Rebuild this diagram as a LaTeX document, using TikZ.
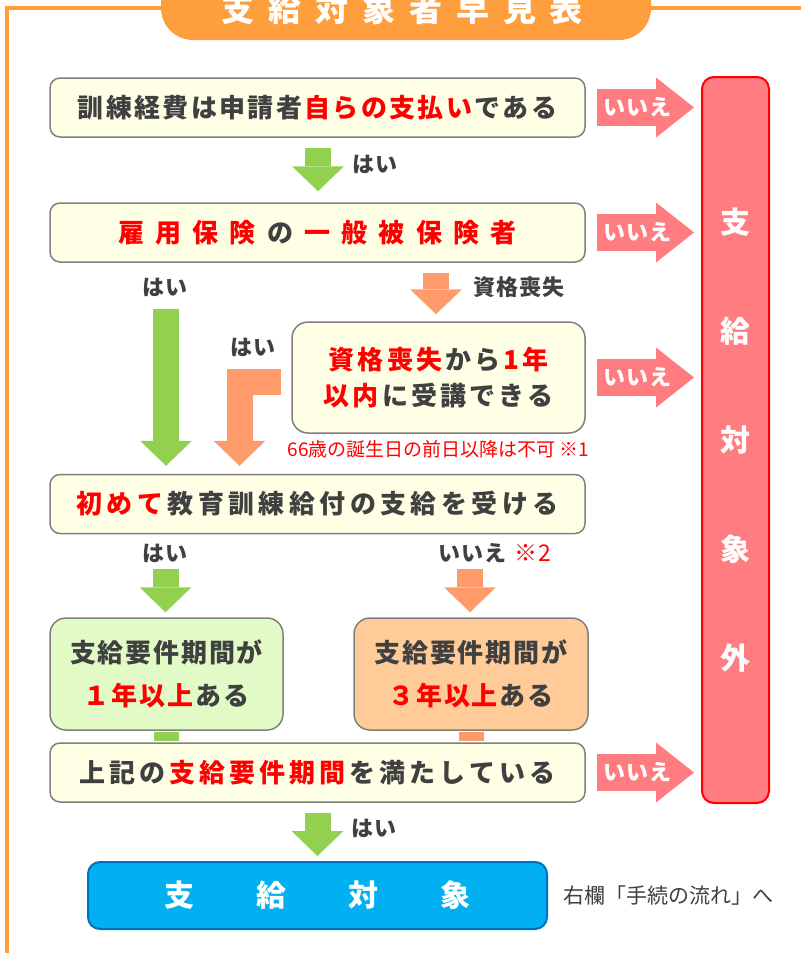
\documentclass[tikz,border=0pt]{standalone}
\usepackage{fontspec}
\setmainfont{Noto Sans CJK JP}
\usetikzlibrary{arrows.meta, positioning, calc}

\definecolor{frameorange}{RGB}{255,158,61}
\definecolor{cream}{RGB}{255,255,230}
\definecolor{boxgray}{RGB}{128,128,128}
\definecolor{textgray}{RGB}{64,64,64}
\definecolor{yesgreen}{RGB}{146,208,80}
\definecolor{lossorange}{RGB}{255,155,106}
\definecolor{lightgreen}{RGB}{226,251,198}
\definecolor{lightorange}{RGB}{255,204,153}
\definecolor{ngpink}{RGB}{255,124,128}
\definecolor{okblue}{RGB}{0,176,240}
\definecolor{okborder}{RGB}{0,112,192}

\newcommand{\redtext}[1]{\textcolor{red}{#1}}
\newcommand{\boxfont}[1]{\bfseries\fontsize{26}{36}\selectfont\addfontfeatures{LetterSpace=#1}}

\tikzset{
  qbox/.style={draw=boxgray, line width=1.5pt, fill=cream, rounded corners=10pt,
    minimum width=535pt, minimum height=59pt, inner sep=0pt, text=textgray},
  tallbox/.style={qbox, rounded corners=16pt, minimum width=233pt, minimum height=112pt,
    align=center, font=\bfseries\fontsize{26}{43}\selectfont\addfontfeatures{LetterSpace=7}},
  lab/.style={text=textgray, inner sep=0pt, font=\bfseries\fontsize{22}{24}\selectfont\addfontfeatures{LetterSpace=5}},
  yesarr/.style={yesgreen, line width=26pt, line join=miter,
    -{Triangle[length=25pt 0 0, width=52pt 0 0, line width=0pt 0 0]}},
  lossarr/.style={yesarr, lossorange},
  noarr/.style={ngpink, line width=37pt,
    -{Triangle[length=38pt 0 0, width=60pt 0 0, line width=0pt 0 0]}},
  notext/.style={text=white, inner sep=0pt,
    font=\bfseries\fontsize{22}{24}\selectfont\addfontfeatures{LetterSpace=4}},
}

\begin{document}
\begin{tikzpicture}[x=1pt, y=-1pt]
  \useasboundingbox (0,0) rectangle (801,953);

  % frame and title tab
  \draw[frameorange, line width=4pt, line join=miter] (7,953) -- (7,8) -- (801,8);
  \fill[frameorange, rounded corners=32pt] (161,-40) rectangle (651,40);
  \node[text=white, inner sep=0pt, font=\bfseries\fontsize{33}{36}\selectfont\addfontfeatures{LetterSpace=42}] (title) at (402.5,9) {支給対象者早見表};

  % questions
  \node[qbox, font=\boxfont{9}] (pay) at (317.5,107.5) {訓練経費は申請者\hspace{2.3pt}\redtext{自らの支払い}\hspace{2.3pt}である};
  \node[qbox, font=\boxfont{43}] (insured) at (317.5,232.5) {\redtext{雇用保険}\hspace{11.3pt}の\hspace{11.3pt}\redtext{一般被保険者}};
  \node[qbox, minimum width=293pt, minimum height=111pt, rounded corners=16pt, align=center,
    font=\boxfont{12}] (lost) at (438.5,377.5) {\redtext{資格喪失}\hspace{3pt}から\hspace{3pt}\redtext{1年}\\\redtext{以内}\hspace{3pt}に受講できる};
  \node[inner sep=0pt, text=red, font=\fontsize{19}{21}\selectfont, below=6pt of lost] (limit) {66歳の誕生日の前日以降は不可 ※1};
  \node[qbox, font=\boxfont{17}] (first) at (317.5,504) {\redtext{初めて}\hspace{4.5pt}教育訓練給付の支給を受ける};
  \node[tallbox, fill=lightgreen] (one) at (166.5,674) {支給要件期間が\\\redtext{１年以上}\hspace{2pt}ある};
  \node[tallbox, fill=lightorange, minimum width=234pt] (three) at (471,674) {支給要件期間が\\\redtext{３年以上}\hspace{2pt}ある};
  \node[qbox, font=\boxfont{15.5}] (period) at (317.5,772.5) {上記の\hspace{4pt}\redtext{支給要件期間}\hspace{4pt}を満たしている};

  % results
  \node[draw=okborder, fill=okblue, line width=2pt, rounded corners=12pt, minimum width=459pt,
    minimum height=67pt, inner sep=0pt, text=white, font=\bfseries\fontsize{30}{34}\selectfont]
    (ok) at (317.5,895.5) {支\hspace{62pt}給\hspace{62pt}対\hspace{62pt}象};
  \node[inner sep=0pt, text=textgray, font=\fontsize{21}{24}\selectfont, right=15pt of ok] (flow) {右欄「手続の流れ」へ};
  \node[draw=red, fill=ngpink, line width=2pt, rounded corners=12pt, minimum width=67pt,
    minimum height=726pt, inner sep=0pt, text=white, align=center,
    font=\bfseries\fontsize{30}{109}\selectfont] (ng) at (735.5,440) {支\\給\\対\\象\\外};

  % yes / lost arrows
  \draw[yesarr] ($(pay.south)+(0.5,10)$) -- ($(insured.north)+(0.5,-11)$);
  \node[lab] (yes1) at (375,164) {はい};
  \draw[lossarr] ($(insured.south -| lost.north)+(-2.5,10)$) -- ($(lost.north)+(-2.5,-7)$);
  \node[lab] (loss) at (519,287) {資格喪失};
  \draw[yesarr] ($(insured.south -| one.north)+(-0.5,46)$) -- ($(first.north -| one.north)+(-0.5,-8)$);
  \node[lab] (yes2) at (165,287) {はい};
  \coordinate (bend) at (239.5,382);
  \draw[lossarr] ($(lost.west)+(-10,4.5)$) -- (bend) -- ($(bend |- first.north)+(0,-8)$);
  \node[lab] (yes3) at (253,347) {はい};
  \draw[yesarr] ($(first.south -| one.north)+(-1,35)$) -- ($(one.north)+(-1,-5)$);
  \node[lab] (yes4) at (165,553) {はい};
  \draw[lossarr] ($(first.south -| three.north)+(-1,35)$) -- ($(three.north)+(-1,-5)$);
  \node[lab] (no5) at (495,553) {いいえ\hspace{8pt}\redtext{\mdseries\fontsize{23}{24}\selectfont ※2}};
  \draw[yesgreen, line width=25pt] ($(one.south)+(-0.5,1)$) -- ($(one.south |- period.north)+(-0.5,-1)$);
  \draw[lossorange, line width=25pt] ($(three.south)+(0,1)$) -- ($(three.south |- period.north)+(0,-1)$);
  \draw[yesarr] ($(period.south)+(0,10)$) -- ($(ok.north)+(0,-5)$);
  \node[lab] (yes6) at (374,828) {はい};

  % no arrows
  \foreach \q in {pay, insured, lost, period} {
    \draw[noarr] ($(\q.east)+(11,0)$) -- ($(\q.east -| ng.west)+(-7,0)$);
    \node[notext, anchor=west] at ($(\q.east)+(18,0)$) {いいえ};
  }
\end{tikzpicture}
\end{document}
